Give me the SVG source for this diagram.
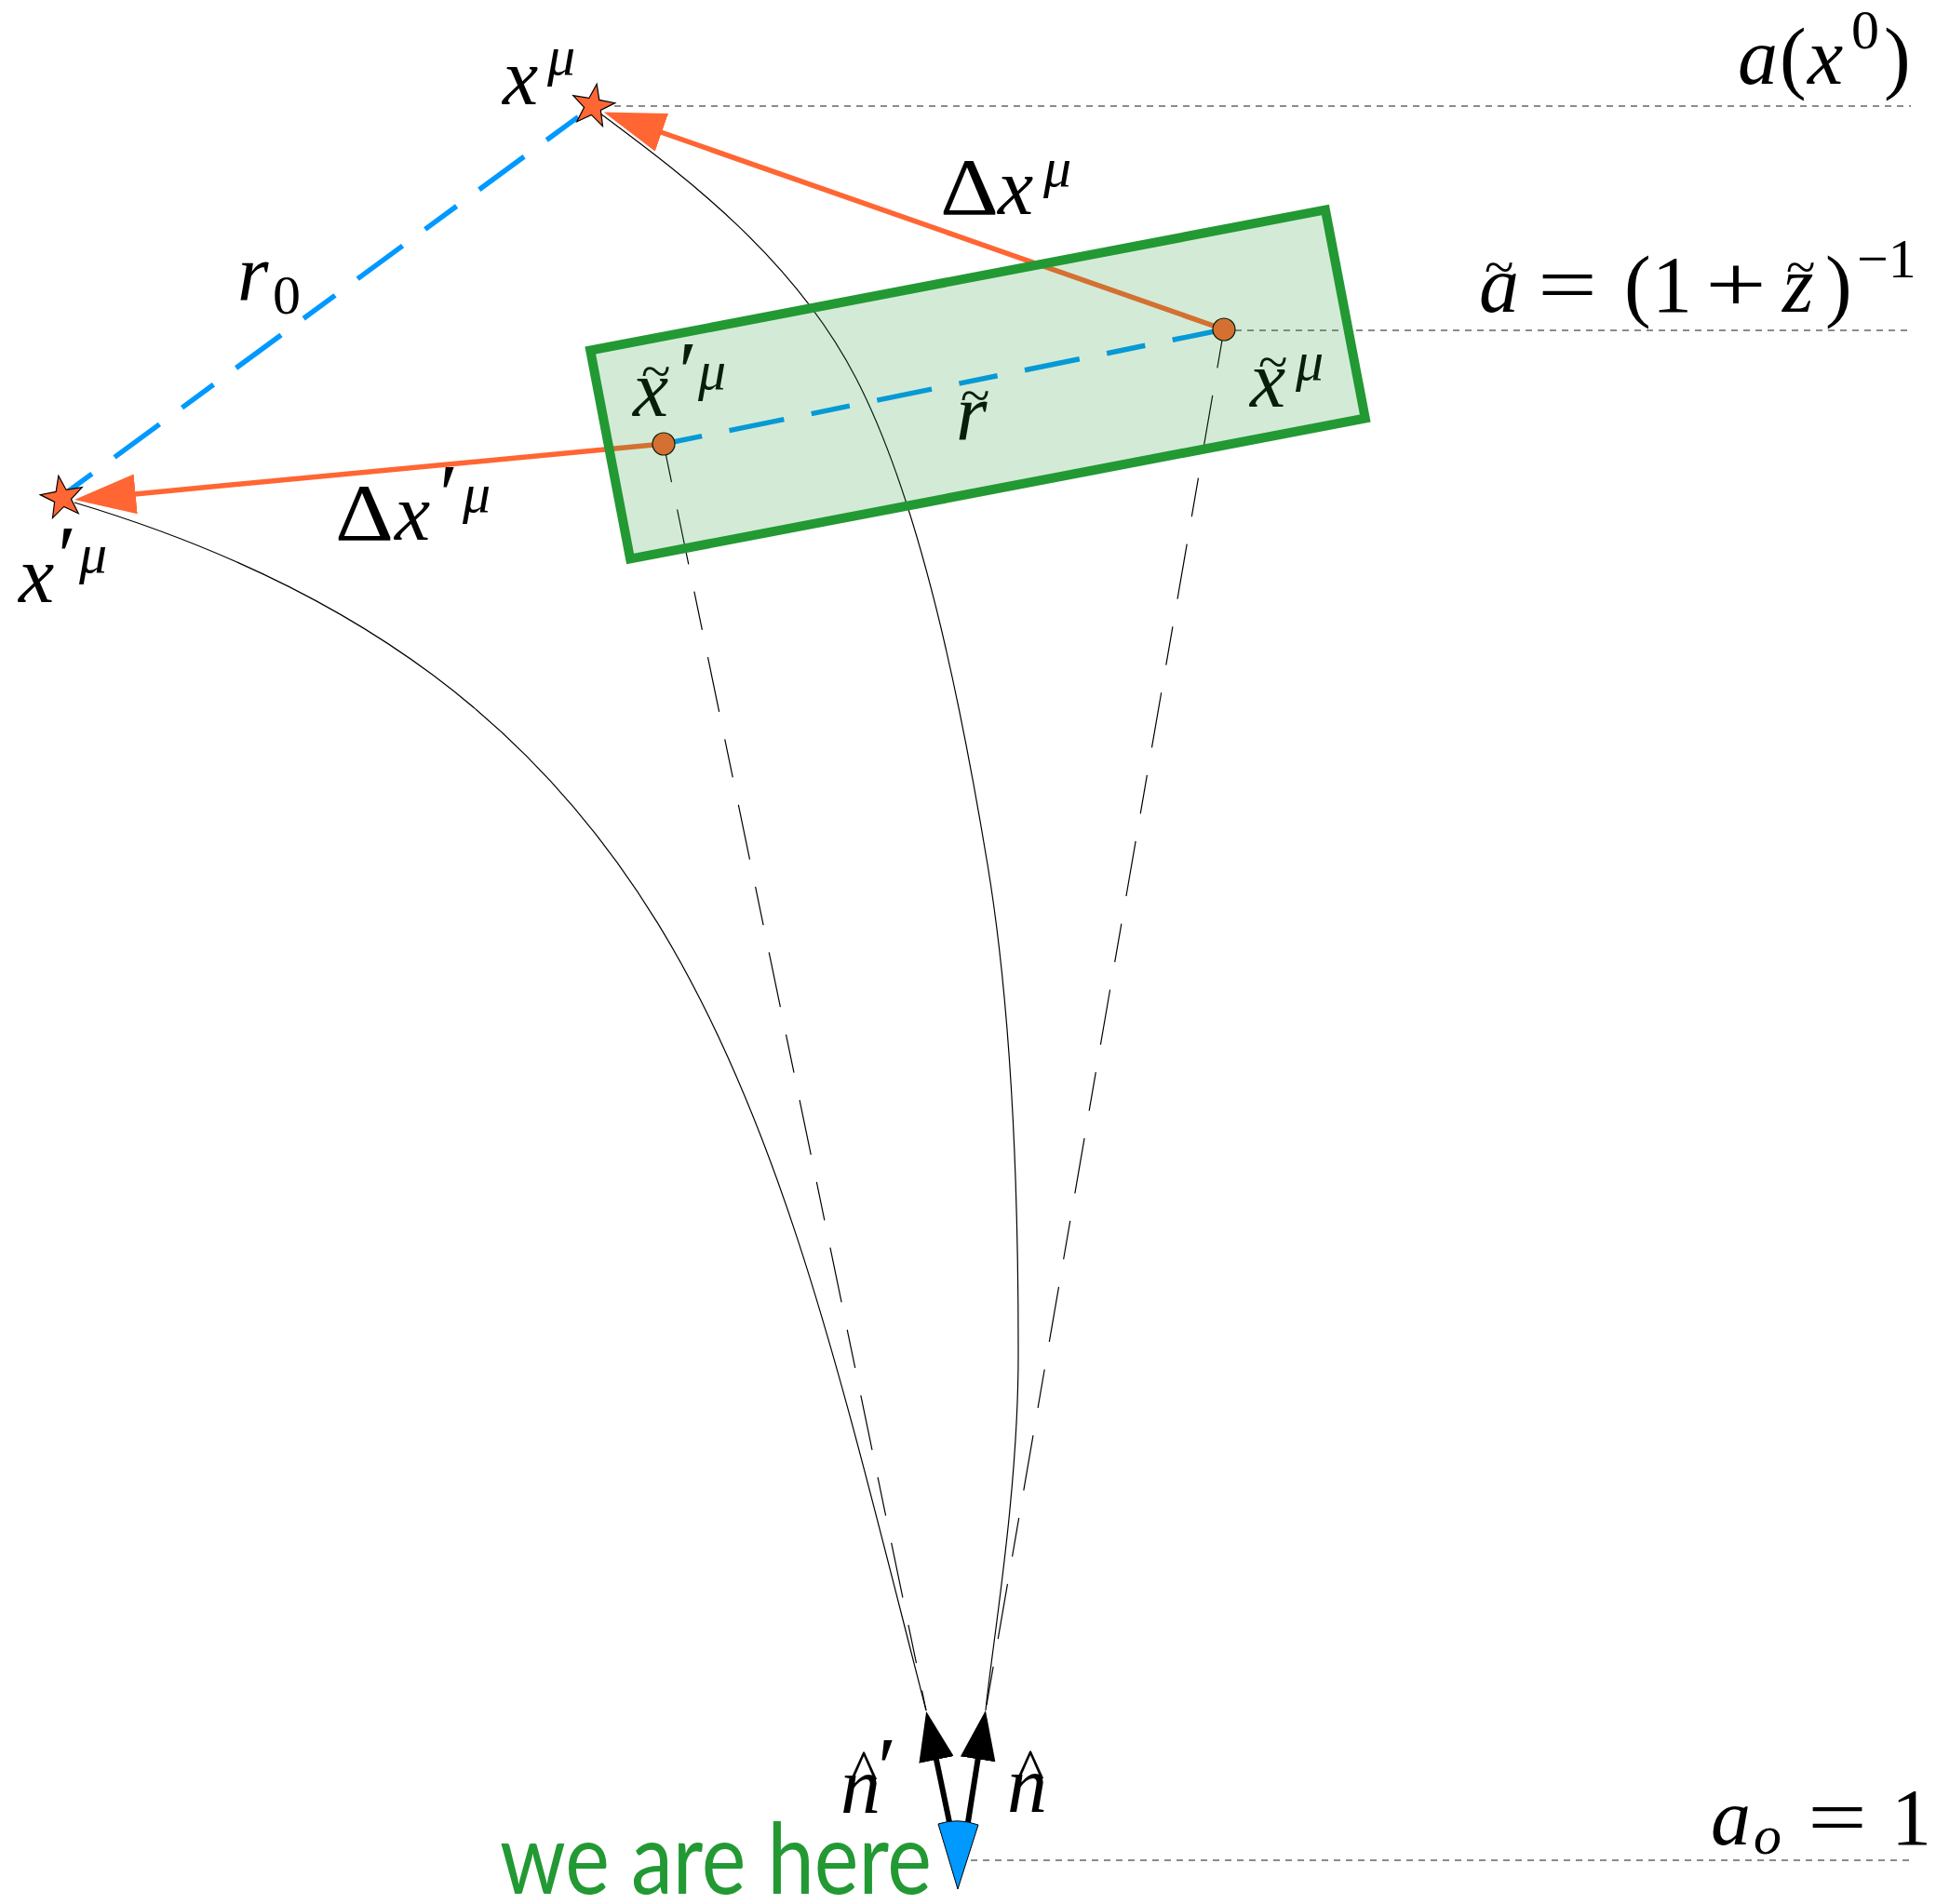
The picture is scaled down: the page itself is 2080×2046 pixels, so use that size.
<svg xmlns="http://www.w3.org/2000/svg" width="2080" height="2046" viewBox="0 0 2080 2046">
<style>
.m{font-family:"Liberation Serif","Times New Roman",serif;font-style:italic;fill:#000}
.u{font-family:"Liberation Serif","Times New Roman",serif;font-style:normal;fill:#000}
.big{font-size:86px}
.sup{font-size:60px}
.pr{font-size:92px}
.acc{font-size:58px}
.thin{fill:none;stroke:#000;stroke-width:1.2}
.tdash{fill:none;stroke:#000;stroke-width:1.2;stroke-dasharray:42 30 60 30}
.dot{fill:none;stroke:#666;stroke-width:1.6;stroke-dasharray:7 6}
.blue{fill:none;stroke:#0099ff;stroke-width:5.5;stroke-dasharray:42 30 60 30}
.or{fill:none;stroke:#ff6633;stroke-width:5.5}
.nar{fill:none;stroke:#000;stroke-width:6}
.star{fill:#ff6633;stroke:#000;stroke-width:1.2}
.pt{fill:#ff6633;stroke:#000;stroke-width:1.2}
</style>
<defs>
<marker id="oh" markerUnits="userSpaceOnUse" viewBox="0 0 66 43" refX="1" refY="21.5" markerWidth="66" markerHeight="43" orient="auto"><path d="M0,0 L66,21.5 L0,43 Z" fill="#ff6633"/></marker>
<marker id="bh" markerUnits="userSpaceOnUse" viewBox="0 0 53 38" refX="1" refY="19" markerWidth="53" markerHeight="38" orient="auto"><path d="M0,0 L53,19 L0,38 Z" fill="#000"/></marker>
<polygon id="st" points="0,-24 5.58,-7.69 22.83,-7.42 9.04,2.94 14.11,19.42 0,9.5 -14.11,19.42 -9.04,2.94 -22.83,-7.42 -5.58,-7.69"/>
</defs>
<rect width="2080" height="2046" fill="#fff"/>
<g id="connectors">
<path class="dot" d="M660,114 H2053"/>
<path class="dot" d="M1327,355 H2053"/>
<path class="dot" d="M1043,1999 H2053"/>
<path class="thin" d="M645,122 C725,182 850.7,272.5 920,407 C989.3,541.5 1032,753.7 1061,929 C1090,1104.3 1094.3,1307.5 1094,1459 C1093.7,1610.5 1064.8,1774.8 1059,1838"/>
<path class="thin" d="M80,540 C750.6,741 832.5,1208.8 995,1838"/>
<path class="tdash" d="M713,477 L995,1838"/>
<path class="tdash" d="M1315,354 L1059,1838"/>
<path class="blue" d="M65,534 L637,114"/>
<path class="blue" d="M713,477 L1315,354"/>
<path class="or" d="M1315,354 L710,142" marker-end="url(#oh)"/>
<path class="or" d="M713,477 L144.7,530.9" marker-end="url(#oh)"/>
<path class="nar" d="M1020,1958 L1005.8,1890" marker-end="url(#bh)"/>
<path class="nar" d="M1040,1958 L1050.8,1889.4" marker-end="url(#bh)"/>
</g>
<g id="star-x">
<use href="#st" class="star" transform="translate(637,114) rotate(10)"/>
</g>
<g id="star-xp">
<use href="#st" class="star" transform="translate(67,535) rotate(-10)"/>
</g>
<g id="point-xt">
<circle class="pt" cx="1315" cy="354" r="12"/>
</g>
<g id="point-xtp">
<circle class="pt" cx="713" cy="477" r="12"/>
</g>
<g id="observer">
<path d="M1008,1960 Q1029,1953 1051,1961 L1029,2030 Z" fill="#0099ff" stroke="#000" stroke-width="1"/>
<text x="537" y="2035" font-family="Lato,'Open Sans',sans-serif" font-size="106" fill="#229933" textLength="464" lengthAdjust="spacingAndGlyphs">we are here</text>
</g>
<g id="labels" font-family="Liberation Serif, Times New Roman, serif">
<text class="m big" x="540" y="112">x</text><text class="m sup" x="588" y="80">μ</text>
<text class="m big" x="20" y="647">x</text><text class="u pr" x="62" y="628">′</text><text class="m sup" x="85" y="615">μ</text>
<text class="m big" x="255" y="323">r</text><text class="u sup" x="293" y="337">0</text>
<text class="u big" x="1010" y="230" textLength="63" lengthAdjust="spacingAndGlyphs">Δ</text><text class="m big" x="1072" y="230">x</text><text class="m sup" x="1121" y="200">μ</text>
<text class="u big" x="360" y="580" textLength="63" lengthAdjust="spacingAndGlyphs">Δ</text><text class="m big" x="424" y="580">x</text><text class="u pr" x="472" y="562">′</text><text class="m sup" x="497" y="550">μ</text>
<text class="m big" x="1343" y="437">x</text><text class="u acc" x="1352" y="408">~</text><text class="m sup" x="1392" y="408">μ</text>
<text class="m big" x="1027" y="473">r</text><text class="u acc" x="1032" y="444">~</text>
<text class="m big" x="680" y="447">x</text><text class="u acc" x="689" y="418">~</text><text class="u pr" x="729" y="430">′</text><text class="m sup" x="750" y="418">μ</text>
<text class="m big" x="1867" y="90">a</text><text class="u big" x="1912" y="90">(</text><text class="m big" x="1942" y="90">x</text><text class="u sup" x="1989" y="52">0</text><text class="u big" x="2024" y="90">)</text>
<text class="m big" x="1589" y="335">a</text><text class="u acc" x="1595" y="306">~</text><text class="u big" x="1652" y="335" textLength="64" lengthAdjust="spacingAndGlyphs">=</text><text class="u big" x="1745" y="335">(</text><text class="u big" x="1775" y="335">1</text><text class="u big" x="1832" y="335" textLength="66" lengthAdjust="spacingAndGlyphs">+</text><text class="m big" x="1915" y="335">z</text><text class="u acc" x="1919" y="306">~</text><text class="u big" x="1961" y="335">)</text><text class="u sup" x="1995" y="298">−1</text>
<text class="m big" x="1838" y="1982">a</text><text class="m sup" x="1884" y="1992">o</text><text class="u big" x="1942" y="1982" textLength="64" lengthAdjust="spacingAndGlyphs">=</text><text class="u big" x="2032" y="1982">1</text>
<text class="m big" x="903" y="1948">n</text><text class="u" font-size="64" x="913" y="1924">^</text><text class="u pr" x="943" y="1930">′</text>
<text class="m big" x="1082" y="1947">n</text><text class="u" font-size="64" x="1092" y="1923">^</text>
</g>
<g id="box">
<rect x="-402" y="-114" width="804" height="228" transform="translate(1050.5,413) rotate(-10.83)" fill="#229933" fill-opacity="0.2" stroke="#229933" stroke-width="10"/>
</g>
</svg>
